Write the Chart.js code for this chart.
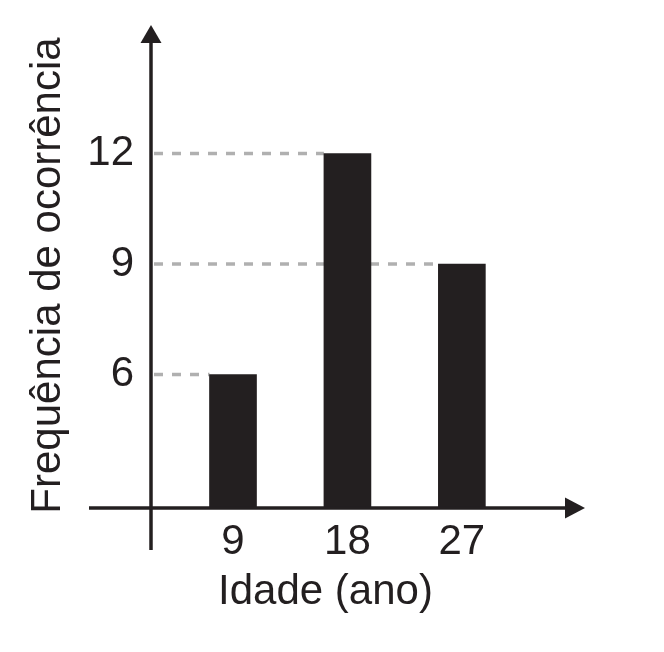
<!DOCTYPE html>
<html>
<head>
<meta charset="utf-8">
<script src="https://cdn.jsdelivr.net/npm/chart.js@4"></script>
<style>
  body { margin: 0; background: #fff; }
  canvas { display: block; }
</style>
</head>
<body>
<canvas id="chart" width="664" height="652"></canvas>
<script>
// Data
const idades = [9, 18, 27];
const frequencias = [6, 12, 9];
const yTicks = [6, 9, 12];
const xTicks = [9, 18, 27];

const ink = '#231f20';
const dash = '#b0b0b0';
const fontFamily = '"Liberation Sans", Arial, Helvetica, sans-serif';

// Axes with arrows and dashed guides from the y-axis to each bar
const axesPlugin = {
    id: 'axesPlugin',
    beforeDatasetsDraw(chart) {
        const { ctx, chartArea } = chart;
        const meta = chart.getDatasetMeta(0);
        ctx.save();
        ctx.strokeStyle = dash;
        ctx.lineWidth = 3.5;
        ctx.setLineDash([9, 9]);
        meta.data.forEach(bar => {
            const left = bar.x - bar.width / 2;
            ctx.beginPath();
            ctx.moveTo(chartArea.left + 3, bar.y);
            ctx.lineTo(left, bar.y);
            ctx.stroke();
        });
        ctx.restore();
    },
    afterDatasetsDraw(chart) {
        const { ctx, chartArea } = chart;
        const ax = chartArea.left;
        const ay = chartArea.bottom;
        ctx.save();
        ctx.strokeStyle = ink;
        ctx.fillStyle = ink;
        ctx.lineWidth = 3.5;

        // y axis
        ctx.beginPath();
        ctx.moveTo(ax, ay + 42);
        ctx.lineTo(ax, chartArea.top);
        ctx.stroke();
        ctx.beginPath();
        ctx.moveTo(ax, chartArea.top - 18);
        ctx.lineTo(ax - 10.5, chartArea.top);
        ctx.lineTo(ax + 10.5, chartArea.top);
        ctx.closePath();
        ctx.fill();

        // x axis
        const xEnd = chartArea.right + 65;
        ctx.beginPath();
        ctx.moveTo(ax - 62, ay);
        ctx.lineTo(xEnd, ay);
        ctx.stroke();
        ctx.beginPath();
        ctx.moveTo(xEnd + 20, ay);
        ctx.lineTo(xEnd, ay - 10.5);
        ctx.lineTo(xEnd, ay + 10.5);
        ctx.closePath();
        ctx.fill();
        ctx.restore();
    }
};

const ctx = document.getElementById('chart');

new Chart(ctx, {
    type: 'bar',
    data: {
        datasets: [{
            data: idades.map((x, i) => ({ x: x, y: frequencias[i] })),
            backgroundColor: ink,
            borderWidth: 0,
            barThickness: 47
        }]
    },
    options: {
        responsive: false,
        animation: false,
        layout: {
            padding: { top: 43, right: 164, bottom: 0, left: 0 }
        },
        plugins: {
            legend: { display: false },
            tooltip: { enabled: false }
        },
        scales: {
            x: {
                type: 'linear',
                offset: false,
                min: 2.55,
                max: 30,
                grid: { display: false, drawTicks: false, offset: false },
                border: { display: false },
                afterBuildTicks: scale => {
                    scale.ticks = xTicks.map(v => ({ value: v }));
                },
                afterFit: scale => { scale.height = 144; },
                ticks: {
                    color: ink,
                    padding: 9,
                    font: { family: fontFamily, size: 42 }
                },
                title: {
                    display: true,
                    text: 'Idade (ano)',
                    color: ink,
                    padding: { top: 0, bottom: 34 },
                    font: { family: fontFamily, size: 42 }
                }
            },
            y: {
                min: 2.376,
                max: 15,
                grid: { display: false, drawTicks: false },
                border: { display: false },
                afterBuildTicks: scale => {
                    scale.ticks = yTicks.map(v => ({ value: v }));
                },
                afterFit: scale => { scale.width = 151; },
                ticks: {
                    color: ink,
                    padding: 17,
                    font: { family: fontFamily, size: 42 }
                },
                title: {
                    display: true,
                    text: 'Frequência de ocorrência',
                    color: ink,
                    padding: { top: 23, bottom: 0 },
                    font: { family: fontFamily, size: 42 }
                }
            }
        }
    },
    plugins: [axesPlugin]
});
</script>
</body>
</html>
